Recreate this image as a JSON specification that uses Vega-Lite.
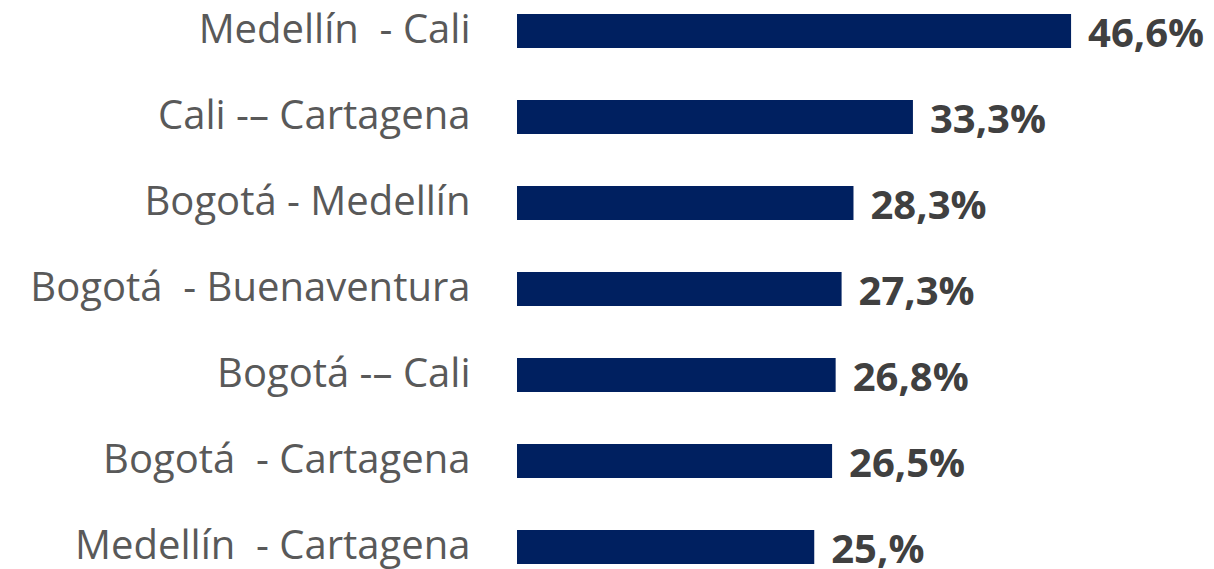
{
  "$schema": "https://vega.github.io/schema/vega-lite/v6.json",
  "width": 594.5,
  "height": 569,
  "autosize": {"type": "none"},
  "padding": {"left": 517, "top": 0, "right": 102.5, "bottom": 0},
  "background": "white",
  "config": {"view": {"stroke": null}},
  "data": {
    "values": [
      {"ruta": "Medellín\u00a0 - Cali", "valor": 46.6, "etiqueta": "46,6%"},
      {"ruta": "Cali -– Cartagena", "valor": 33.3, "etiqueta": "33,3%"},
      {"ruta": "Bogotá - Medellín\u00a0", "valor": 28.3, "etiqueta": "28,3%"},
      {"ruta": "Bogotá\u00a0 - Buenaventura", "valor": 27.3, "etiqueta": "27,3%"},
      {"ruta": "Bogotá -– Cali", "valor": 26.8, "etiqueta": "26,8%"},
      {"ruta": "Bogotá\u00a0 - Cartagena", "valor": 26.5, "etiqueta": "26,5%"},
      {"ruta": "Medellín\u00a0 - Cartagena", "valor": 25.0, "etiqueta": "25,%"}
    ]
  },
  "encoding": {
    "y": {
      "field": "ruta",
      "type": "nominal",
      "sort": null,
      "scale": {"range": [-12, 590], "paddingInner": 0.605, "paddingOuter": 0.3025},
      "axis": {
        "title": null,
        "domain": false,
        "ticks": false,
        "labelFont": "Open Sans",
        "labelFontSize": 40,
        "labelColor": "#595959",
        "labelPadding": 47,
        "labelLimit": 600
      }
    },
    "x": {
      "field": "valor",
      "type": "quantitative",
      "scale": {"domain": [0, 50], "nice": false},
      "axis": null
    }
  },
  "layer": [
    {"mark": {"type": "bar", "color": "#002060"}},
    {
      "mark": {
        "type": "text",
        "align": "left",
        "baseline": "middle",
        "dx": 17,
        "dy": 4,
        "font": "Open Sans",
        "fontSize": 40,
        "fontWeight": "bold",
        "color": "#404040"
      },
      "encoding": {"text": {"field": "etiqueta"}}
    }
  ]
}
